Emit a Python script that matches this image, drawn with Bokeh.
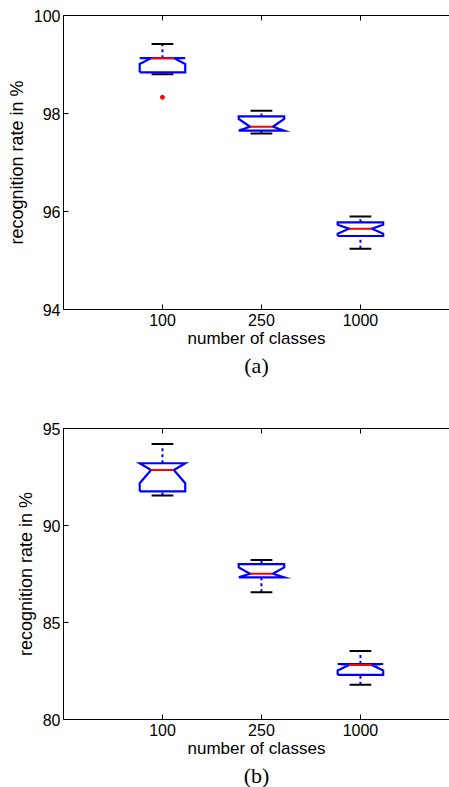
from bokeh.plotting import figure
from bokeh.models import Range1d, FixedTicker, LinearAxis
from bokeh.layouts import column
from bokeh.embed import file_html
from bokeh.resources import INLINE

# ---------------- data ----------------
categories = ["100", "250", "1000"]

# panel (a)
a_whisker_lo = [98.80, 97.59, 95.24]
a_q1 = [98.84, 97.65, 95.50]
a_notch_lo = [99.01, 97.65, 95.545]
a_median = [99.13, 97.73, 95.65]
a_notch_hi = [99.13, 97.89, 95.73]
a_q3 = [99.13, 97.94, 95.78]
a_whisker_hi = [99.42, 98.055, 95.90]
a_outlier_cat = ["100"]
a_outlier_val = [98.33]
a_yticks = [94, 96, 98, 100]

# panel (b)
b_whisker_lo = [91.54, 86.56, 81.79]
b_q1 = [91.76, 87.33, 82.30]
b_notch_lo = [92.18, 87.33, 82.53]
b_median = [92.86, 87.51, 82.81]
b_notch_hi = [93.21, 87.84, 82.86]
b_q3 = [93.21, 88.01, 82.86]
b_whisker_hi = [94.20, 88.22, 83.53]
b_outlier_cat = []
b_outlier_val = []
b_yticks = [80, 85, 90, 95]

BOX_HW = 0.23
NOTCH_HW = 0.115
CAP_HW = 0.11

SANS = "Liberation Sans"
SERIF = "Liberation Serif"


def make_panel(title, ylim, yticks, wlo, q1, nlo, med, nhi, q3, whi,
               out_cat, out_val, height, top, bottom):
    p = figure(width=449, height=height, output_backend="svg",
               toolbar_location=None, x_range=Range1d(0, 3.9),
               y_range=Range1d(*ylim), title=title, title_location="below",
               min_border_left=63, min_border_right=0,
               min_border_top=top, min_border_bottom=bottom,
               x_axis_location=None, y_axis_location=None)
    p.outline_line_color = None
    p.grid.visible = False
    p.background_fill_color = "white"
    p.border_fill_color = "white"

    xs = [categories.index(c) + 1 for c in categories]

    # axes
    xaxis = LinearAxis(ticker=FixedTicker(ticks=xs),
                       major_label_overrides={x: c for x, c in zip(xs, categories)},
                       axis_label="number of classes")
    yaxis = LinearAxis(ticker=FixedTicker(ticks=yticks),
                       axis_label="recognition rate in %")
    topaxis = LinearAxis(ticker=FixedTicker(ticks=xs))
    for ax in (xaxis, yaxis, topaxis):
        ax.major_tick_in = 5
        ax.major_tick_out = 0
        ax.minor_tick_line_color = None
        ax.axis_line_color = "black"
        ax.major_tick_line_color = "black"
        ax.axis_line_width = 1
        ax.major_label_text_font = SANS
        ax.major_label_text_font_size = "16px"
        ax.major_label_text_color = "black"
        ax.axis_label_text_font = SANS
        ax.axis_label_text_font_style = "normal"
        ax.axis_label_text_color = "black"
    xaxis.major_label_standoff = 4
    xaxis.axis_label_standoff = 0
    xaxis.axis_label_text_font_size = "17px"
    yaxis.major_label_standoff = 3
    yaxis.axis_label_standoff = 4
    yaxis.axis_label_text_font_size = "18px"
    # top frame edge: ticks only, no labels
    topaxis.major_label_text_color = None
    topaxis.major_label_standoff = 0
    p.add_layout(xaxis, "below")
    p.add_layout(yaxis, "left")
    p.add_layout(topaxis, "above")

    p.title.text_font = SERIF
    p.title.text_font_size = "22px"
    p.title.text_font_style = "normal"
    p.title.text_color = "black"
    p.title.align = "center"
    p.title.standoff = 0
    p.title.offset = 0

    # whiskers (dashed blue)
    wx = []
    wy = []
    for x, a, b, c, d in zip(xs, wlo, q1, q3, whi):
        wx += [[x, x], [x, x]]
        wy += [[a, b], [c, d]]
    p.multi_line(wx, wy, line_color="blue", line_width=2, line_dash="3 3")

    # caps (black)
    cx = []
    cy = []
    for x, a, d in zip(xs, wlo, whi):
        cx += [[x - CAP_HW, x + CAP_HW], [x - CAP_HW, x + CAP_HW]]
        cy += [[a, a], [d, d]]
    p.multi_line(cx, cy, line_color="black", line_width=2)

    # notched boxes (blue outline)
    bx = []
    by = []
    for x, a, n1, m, n2, b in zip(xs, q1, nlo, med, nhi, q3):
        bx.append([x - BOX_HW, x - BOX_HW, x - NOTCH_HW, x - BOX_HW, x - BOX_HW,
                   x + BOX_HW, x + BOX_HW, x + NOTCH_HW, x + BOX_HW, x + BOX_HW,
                   x - BOX_HW])
        by.append([a, n1, m, n2, b, b, n2, m, n1, a, a])
    p.multi_line(bx, by, line_color="blue", line_width=2.2, line_join="miter")

    # medians (red)
    mx = [[x - NOTCH_HW, x + NOTCH_HW] for x in xs]
    my = [[m, m] for m in med]
    p.multi_line(mx, my, line_color="red", line_width=2)

    # outliers
    if out_val:
        ox = [categories.index(c) + 1 for c in out_cat]
        p.scatter(ox, out_val, marker="circle", size=4,
                  fill_color="red", line_color="red")
    return p


pa = make_panel("(a)", (94, 100), a_yticks, a_whisker_lo, a_q1, a_notch_lo,
                a_median, a_notch_hi, a_q3, a_whisker_hi,
                a_outlier_cat, a_outlier_val, height=410, top=15, bottom=101)
pb = make_panel("(b)", (80, 95), b_yticks, b_whisker_lo, b_q1, b_notch_lo,
                b_median, b_notch_hi, b_q3, b_whisker_hi,
                b_outlier_cat, b_outlier_val, height=377, top=18, bottom=66)

layout = column(pa, pb, spacing=0)
open("out.html", "w").write(file_html(layout, INLINE))
